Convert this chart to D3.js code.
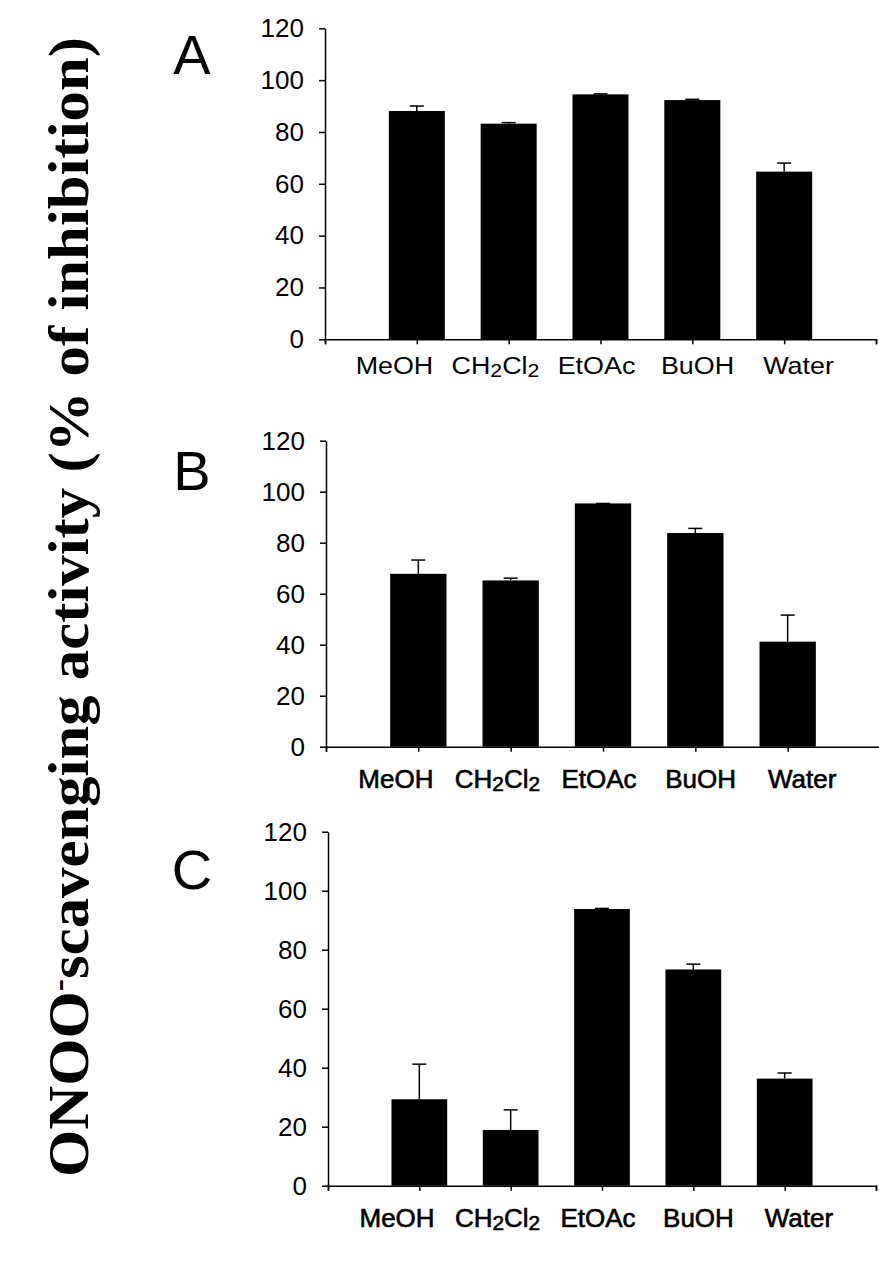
<!DOCTYPE html>
<html>
<head>
  <meta charset="utf-8">
  <script src="https://d3js.org/d3.v7.min.js"></script>
  <style>
    body { margin: 0; background: #fff; }
    svg text { fill: #000; }
    .axis path, .axis line { stroke: #000; stroke-width: 1.5px; }
  </style>
</head>
<body>
  <div id="chart"></div>
  <script type="text/javascript">
  // solvent fractions (x categories)
  var categories = ["MeOH", "CH2Cl2", "EtOAc", "BuOH", "Water"];
  var yTicks = [0, 20, 40, 60, 80, 100, 120];

  // % inhibition and upper error per panel
  var valuesA = [88.1, 83.2, 94.5, 92.3, 64.7];
  var errorsA = [1.9, 0.4, 0.2, 0.3, 3.3];
  var valuesB = [67.8, 65.2, 95.4, 83.8, 41.2];
  var errorsB = [5.4, 0.9, 0.0, 1.8, 10.4];
  var valuesC = [29.3, 18.9, 93.8, 73.3, 36.3];
  var errorsC = [11.9, 6.8, 0.2, 1.8, 1.9];

  var width = 879, height = 1268;

  // panel frames (layout only)
  var panels = [
    { letter: "A", values: valuesA, errors: errorsA, x0: 325, x1: 876, top: 28.3, bottom: 339.3,
      letterY: 74, labelY: 377, labelSize: 24, labelScale: 1.12, heavy: false },
    { letter: "B", values: valuesB, errors: errorsB, x0: 326, x1: 880, top: 440.7, bottom: 746.7,
      letterY: 490, labelY: 791, labelSize: 25, labelScale: 1.04, heavy: true },
    { letter: "C", values: valuesC, errors: errorsC, x0: 328, x1: 876, top: 831.7, bottom: 1185.7,
      letterY: 889, labelY: 1230, labelSize: 25, labelScale: 1.04, heavy: true }
  ];

  var svg = d3.select("#chart").append("svg")
      .attr("width", width)
      .attr("height", height)
      .style("font-family", "'Liberation Sans', Arial, sans-serif");

  // y title
  var title = svg.append("text")
      .attr("transform", "translate(88," + 607 + ") rotate(-90)")
      .attr("text-anchor", "middle")
      .attr("textLength", 1140)
      .attr("lengthAdjust", "spacingAndGlyphs")
      .style("font-family", "'Liberation Serif', 'Times New Roman', serif")
      .style("font-weight", "bold")
      .style("font-size", "56px");
  title.append("tspan").text("ONOO");
  title.append("tspan").attr("baseline-shift", "super").style("font-size", "34px").text("-");
  title.append("tspan").text("scavenging activity (% of inhibition)");

  panels.forEach(function(p) {
    var g = svg.append("g");

    var x = d3.scalePoint()
        .domain(["_start"].concat(categories, ["_end"]))
        .range([p.x0, p.x1]);

    var y = d3.scaleLinear()
        .domain([0, 120])
        .range([p.bottom, p.top]);

    var barW = x.step() * 0.61;

    // bars
    g.selectAll(".bar")
        .data(categories)
      .enter().append("rect")
        .attr("class", "bar")
        .attr("x", function(d) { return x(d) - barW / 2; })
        .attr("y", function(d, i) { return y(p.values[i]); })
        .attr("width", barW)
        .attr("height", function(d, i) { return y(0) - y(p.values[i]); })
        .attr("fill", "#000");

    // upper error bars
    var eb = g.selectAll(".err")
        .data(categories)
      .enter().append("g")
        .attr("class", "err");
    eb.append("line")
        .attr("x1", function(d) { return x(d); })
        .attr("x2", function(d) { return x(d); })
        .attr("y1", function(d, i) { return y(p.values[i]); })
        .attr("y2", function(d, i) { return y(p.values[i] + p.errors[i]); })
        .attr("stroke", "#000").attr("stroke-width", 1.5);
    eb.append("line")
        .attr("x1", function(d) { return x(d) - 7; })
        .attr("x2", function(d) { return x(d) + 7; })
        .attr("y1", function(d, i) { return y(p.values[i] + p.errors[i]); })
        .attr("y2", function(d, i) { return y(p.values[i] + p.errors[i]); })
        .attr("stroke", "#000").attr("stroke-width", 1.5);

    // axes
    g.append("g")
        .attr("class", "axis")
        .attr("transform", "translate(" + p.x0 + ",0)")
        .call(d3.axisLeft(y).tickValues(yTicks).tickSize(6).tickSizeOuter(0).tickPadding(15))
        .call(function(a) {
          a.selectAll("text").style("font-size", "26px")
            .style("font-family", "'Liberation Sans', Arial, sans-serif");
        });

    g.append("g")
        .attr("class", "axis")
        .attr("transform", "translate(0," + p.bottom + ")")
        .call(d3.axisBottom(x).tickSize(5).tickSizeOuter(5).tickFormat(""));

    // category labels
    var mid = x(categories[2]);
    var lab = g.selectAll(".lab")
        .data(categories)
      .enter().append("text")
        .attr("class", "lab")
        .attr("text-anchor", "middle")
        .attr("transform", function(d) {
          var cx = x(d) + (x(d) - mid) * 0.1 - 4;
          return "translate(" + cx + "," + p.labelY + ") scale(" + p.labelScale + ",1)";
        })
        .style("font-size", p.labelSize + "px")
        .style("stroke", p.heavy ? "#000" : "none")
        .style("stroke-width", p.heavy ? 0.6 : 0);
    lab.each(function(d) {
      var t = d3.select(this);
      var parts = d.match(/[A-Za-z]+|\d+/g);
      parts.forEach(function(s) {
        if (/\d/.test(s)) {
          t.append("tspan").attr("dy", 3)
            .style("font-size", Math.round(p.labelSize * 0.8) + "px").text(s);
        } else {
          t.append("tspan").attr("dy", t.selectAll("tspan").size() ? -3 : 0).text(s);
        }
      });
    });

    // panel letter
    g.append("text")
        .attr("x", 192)
        .attr("y", p.letterY)
        .attr("text-anchor", "middle")
        .style("font-size", "56px")
        .text(p.letter);
  });
  </script>
</body>
</html>
